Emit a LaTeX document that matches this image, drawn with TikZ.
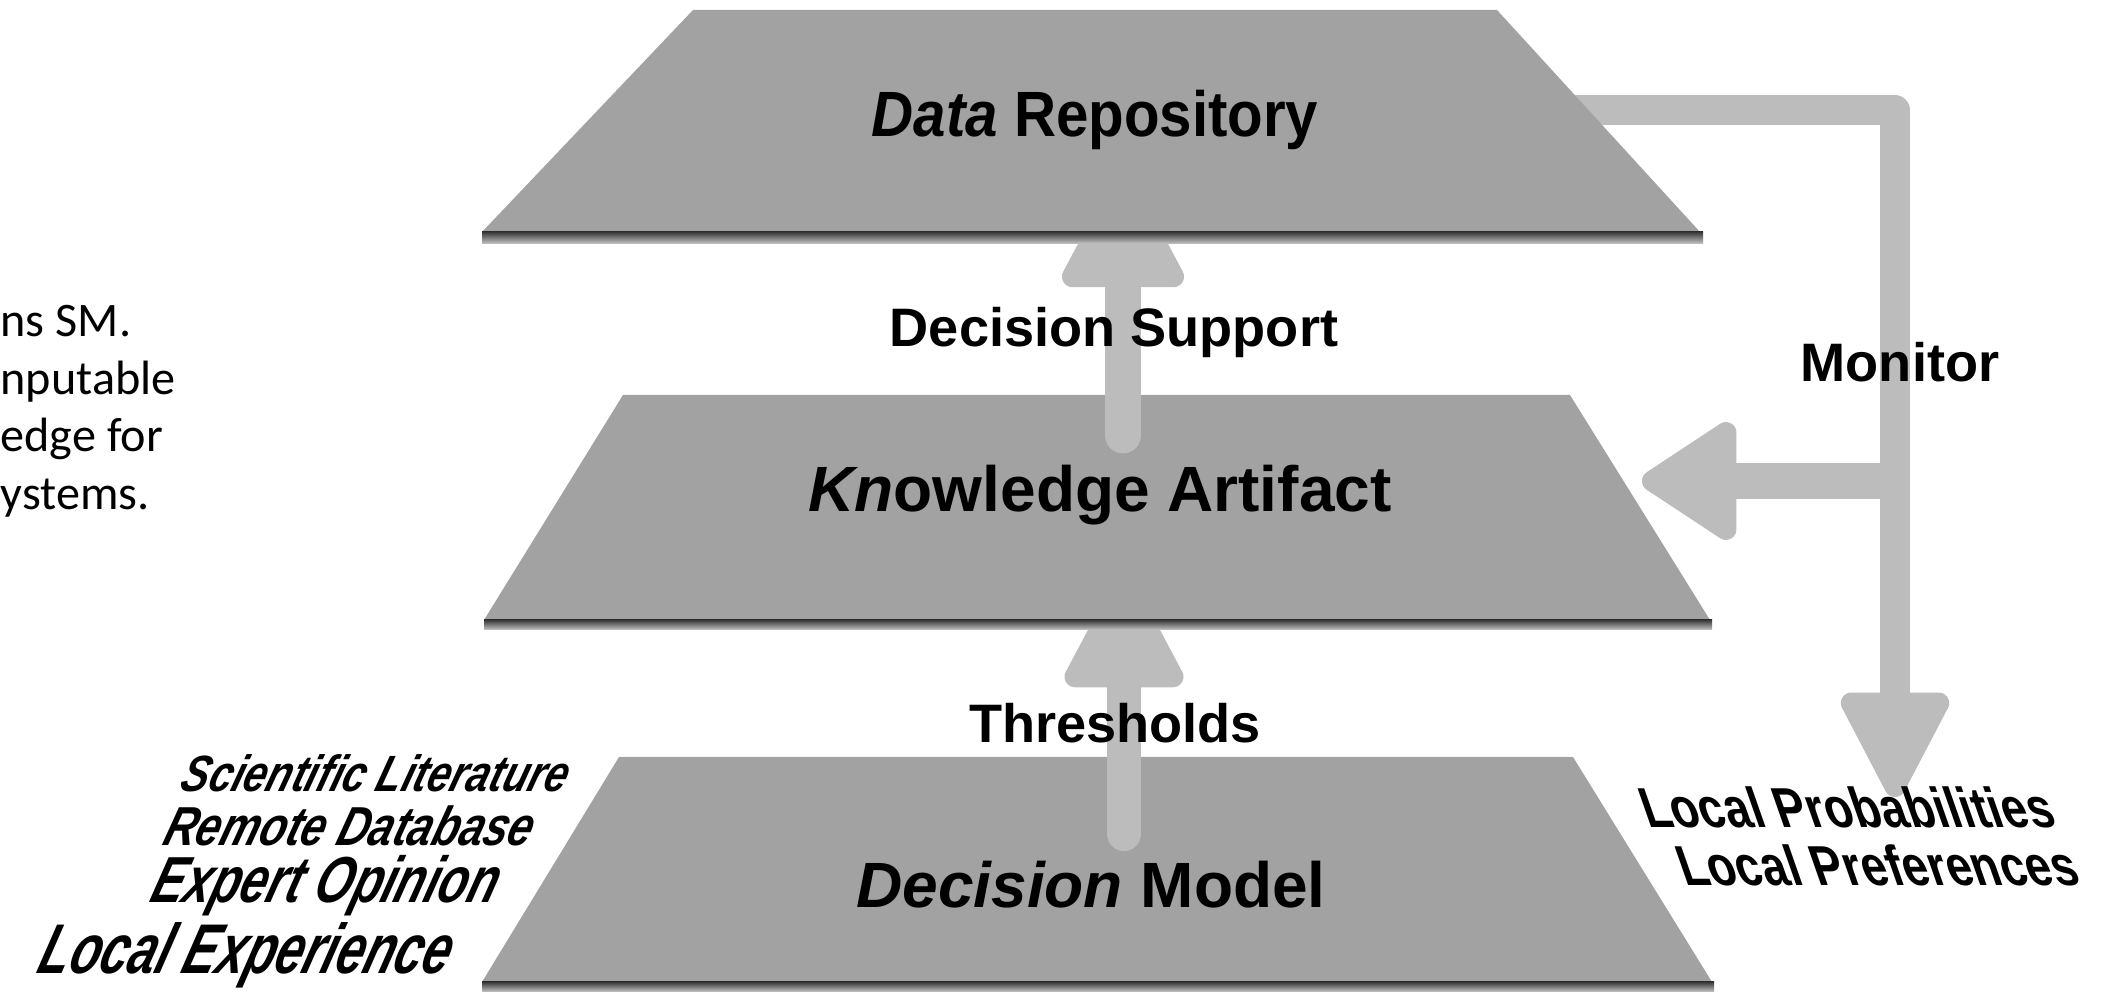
\documentclass[tikz,border=0pt]{standalone}
\usepackage{fontspec}
\setmainfont{Liberation Sans}
\newfontfamily\notefont{Carlito}
\usetikzlibrary{arrows.meta}
\definecolor{layergray}{RGB}{162,162,162}
\definecolor{linkgray}{RGB}{188,188,188}
\tikzset{
  layer/.style={fill=layergray},
  layershadow/.style={top color=black!78,bottom color=black!22},
  link/.style={draw=linkgray,line cap=round,line join=round},
  layertext/.style={anchor=base,font=\bfseries\fontsize{18.2}{20}\selectfont},
  linktext/.style={anchor=base,font=\bfseries\fontsize{15.4}{18}\selectfont},
  sourcetext/.style={anchor=base east,inner sep=0pt,xslant=0.3},
  localtext/.style={anchor=base west,inner sep=0pt,xslant=-0.35,xscale=0.82,font=\bfseries\fontsize{16}{18}\selectfont},
  notetext/.style={anchor=base west,inner sep=0pt,font=\notefont\fontsize{13.7}{16}\selectfont},
}
\begin{document}
\begin{tikzpicture}[x=0.01cm,y=-0.01cm]
  \useasboundingbox (0,0) rectangle (2111,992);

  \coordinate (thfoot) at (1124,834);
  \coordinate (thtip) at (1124,574);
  \coordinate (dsfoot) at (1123,435);
  \coordinate (dstip) at (1123,171);
  \coordinate (monstart) at (1560,110);
  \coordinate (moncorner) at (1895,110);
  \coordinate (monend) at (1895,797);
  \coordinate (monjoint) at (1882,481);
  \coordinate (katip) at (1642,481);

  \fill[layer] (619,757) -- (1573,757) -- (1712,982) -- (482,982) -- cycle;
  \shade[layershadow] (482,982) rectangle (1714,992);
  \draw[link,line width=9.7pt,-{Triangle[width=36.1pt,length=35.9pt,round,line width=6pt]}] (thfoot) -- (thtip);

  \fill[layer] (623,395) -- (1570,395) -- (1710,620) -- (484,620) -- cycle;
  \shade[layershadow] (484,620) rectangle (1712,630);
  \draw[link,line width=10.5pt,-{Triangle[width=37pt,length=36.7pt,round,line width=6pt]}] (dsfoot) -- (dstip);

  \draw[link,line width=8.3pt,-{Triangle[width=33pt,length=33.5pt,round,line width=6pt]}] (monstart) -- (moncorner) -- (monend);
  \draw[link,line width=10.5pt,-{Triangle[width=37pt,length=29.5pt,round,line width=6pt]}] (monjoint) -- (katip);

  \fill[layer] (693,10) -- (1497,10) -- (1700,232) -- (482,232) -- cycle;
  \shade[layershadow] (482,232) rectangle (1703,244);

  \node[layertext,xscale=0.91] (dr) at (1095,137) {\textit{Data} Repository};
  \node[layertext] (ka) at (1100,512) {\textit{Kn}owledge Artifact};
  \node[layertext] (dm) at (1091,908) {\textit{Decision} Model};
  \node[linktext] (dslabel) at (1114,347) {Decision Support};
  \node[linktext] (thlabel) at (1115,743) {Thresholds};
  \node[linktext] (monlabel) at (1900,382) {Monitor};

  \node[sourcetext,xscale=0.81,font=\bfseries\itshape\fontsize{14.5}{16}\selectfont] (scilit) at (565,792) {Scientific Literature};
  \node[sourcetext,xscale=0.8,font=\bfseries\itshape\fontsize{15.6}{18}\selectfont] (remdb) at (530,846) {Remote Database};
  \node[sourcetext,xscale=0.74,font=\bfseries\itshape\fontsize{18.5}{20}\selectfont] (expop) at (494,903) {Expert Opinion};
  \node[sourcetext,xscale=0.71,font=\bfseries\itshape\fontsize{20}{22}\selectfont] (locexp) at (447,974) {Local Experience};

  \node[localtext] (locprob) at (1648,828) {Local Probabilities};
  \node[localtext] (locpref) at (1685,886) {Local Preferences};

  \node[notetext] (noteA) at (0,337) {ns SM.};
  \node[notetext] (noteB) at (0,395) {nputable};
  \node[notetext] (noteC) at (0,452) {edge for};
  \node[notetext] (noteD) at (0,510) {ystems.};
\end{tikzpicture}
\end{document}
